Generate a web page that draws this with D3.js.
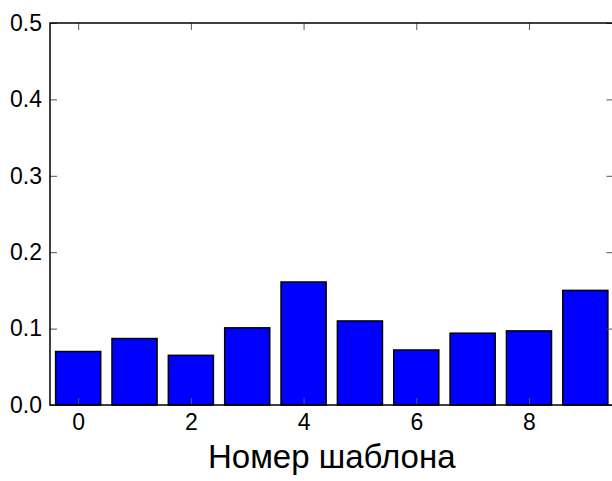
<!DOCTYPE html>
<html>
<head>
<meta charset="utf-8">
<script src="https://cdn.jsdelivr.net/npm/d3@7"></script>
<style>
body { margin: 0; background: #fff; }
text { font-family: "Liberation Sans", Arial, sans-serif; fill: #000; }
</style>
</head>
<body>
<script>
(function(){

//chart data
var templates = [0, 1, 2, 3, 4, 5, 6, 7, 8, 9];
var values = [0.070, 0.087, 0.065, 0.101, 0.161, 0.110, 0.072, 0.094, 0.097, 0.150];
var xTicks = [0, 2, 4, 6, 8];
var yTicks = [0.0, 0.1, 0.2, 0.3, 0.4, 0.5];
var xLabel = "Номер шаблона";

window.onload = drawChart();

function drawChart(){
    var width = 612,
        height = 481;

    var left = 50, right = 613.5, top = 23, bottom = 405;

    var svg = d3.select("body")
        .append("svg")
        .attr("width", width)
        .attr("height", height);

    var x = d3.scaleLinear()
        .domain([-0.5, 9.5])
        .range([left, right]);

    var y = d3.scaleLinear()
        .domain([0, 0.5])
        .range([bottom, top]);

    var barW = x(0.8) - x(0);

    //bars
    svg.selectAll(".bar")
        .data(templates)
        .enter()
        .append("rect")
        .attr("class", "bar")
        .attr("x", function(d){ return x(d) - barW / 2; })
        .attr("y", function(d, i){ return y(values[i]); })
        .attr("width", barW)
        .attr("height", function(d, i){ return y(0) - y(values[i]); })
        .style("fill", "#0000ff")
        .style("stroke", "#000")
        .style("stroke-width", 1.5);

    var tickLen = 7;

    //bottom axis, ticks pointing inward
    var xAxis = svg.append("g")
        .attr("transform", "translate(0," + bottom + ")")
        .call(d3.axisBottom(x).tickValues(xTicks).tickSizeInner(-tickLen).tickSizeOuter(0).tickPadding(9));
    //top axis, ticks only
    var xAxisTop = svg.append("g")
        .attr("transform", "translate(0," + top + ")")
        .call(d3.axisTop(x).tickValues(xTicks).tickSizeInner(-tickLen).tickSizeOuter(0).tickFormat(""));
    //left axis
    var yAxis = svg.append("g")
        .attr("transform", "translate(" + left + ",0)")
        .call(d3.axisLeft(y).tickValues(yTicks).tickSizeInner(-tickLen).tickSizeOuter(0).tickPadding(8).tickFormat(d3.format(".1f")));
    //right axis, ticks only
    var yAxisRight = svg.append("g")
        .attr("transform", "translate(" + right + ",0)")
        .call(d3.axisRight(y).tickValues(yTicks).tickSizeInner(-tickLen).tickSizeOuter(0).tickFormat(""));

    [xAxis, xAxisTop, yAxis, yAxisRight].forEach(function(g){
        g.select(".domain").remove();
        g.selectAll(".tick line").attr("stroke", "#555").attr("stroke-width", 1);
        g.selectAll("text").style("font-size", "23px").attr("fill", "#000");
    });

    //frame
    svg.append("rect")
        .attr("x", left)
        .attr("y", top)
        .attr("width", right - left)
        .attr("height", bottom - top)
        .style("fill", "none")
        .style("stroke", "#000")
        .style("stroke-width", 1.5);

    //x axis title
    svg.append("text")
        .attr("x", (x(-0.5) + x(9.5)) / 2)
        .attr("y", 467.5)
        .attr("text-anchor", "middle")
        .style("font-size", "33px")
        .text(xLabel);
}

})();
</script>
</body>
</html>
